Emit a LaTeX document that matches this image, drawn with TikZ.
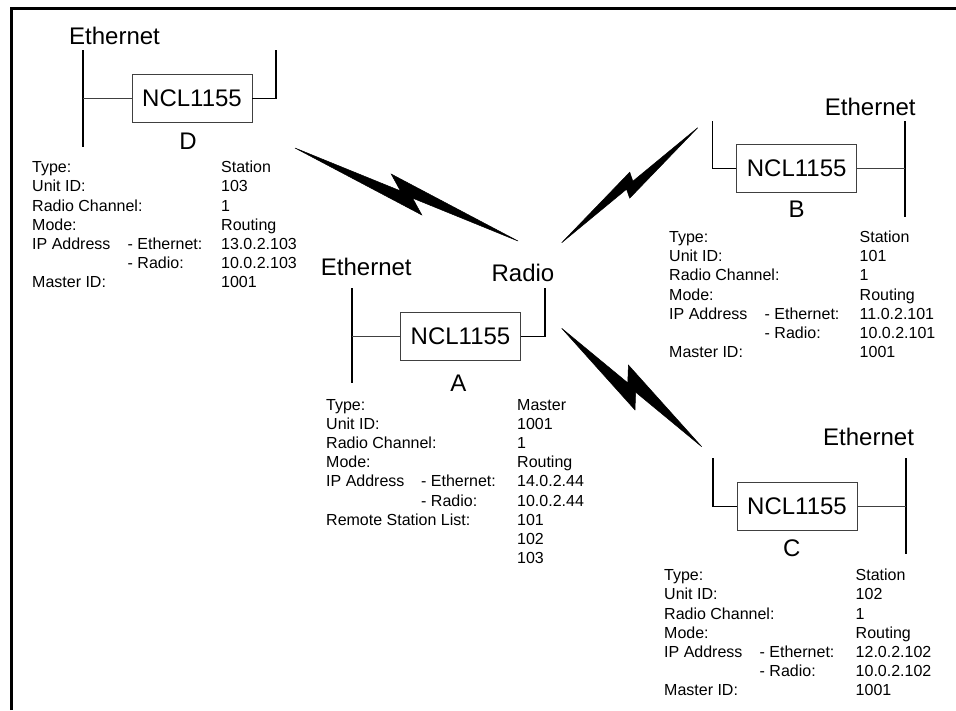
\documentclass[tikz,border=0pt]{standalone}
\usepackage{fontspec}
\setmainfont{Liberation Sans}
\usetikzlibrary{calc}

\tikzset{
  big/.style={font=\fontsize{24}{28}\selectfont, inner sep=0pt, anchor=base west},
  small/.style={font=\fontsize{16}{19}\selectfont, inner sep=0pt, anchor=base west},
  unitbox/.style={draw=black!75, line width=0.8pt, minimum width=120pt, minimum height=48pt,
    inner sep=0pt, font=\fontsize{24}{28}\selectfont},
  bus/.style={line width=2pt},
  radiolead/.style={line width=1.6pt},
  ethlead/.style={line width=0.8pt, draw=black!75},
}

% radio link: start, end, forward tip (along, across), joint (along, across)
\newcommand{\bolt}[6]{%
  \pgfmathsetmacro{\bqa}{-(#3)}
  \pgfmathsetmacro{\bqb}{-(#4)}
  \pgfmathsetmacro{\baa}{-(#5)}
  \pgfmathsetmacro{\bab}{-(#6)}
  \coordinate (bm) at ($(#1)!0.5!(#2)$);
  \filldraw[line width=0.5pt] (#1)
    -- ($(bm)!#5pt!(#2)!#6pt!90:(#2)$)
    -- ($(bm)!\bqa pt!(#2)!\bqb pt!90:(#2)$)
    -- (#2)
    -- ($(bm)!\baa pt!(#2)!\bab pt!90:(#2)$)
    -- ($(bm)!#3pt!(#2)!#4pt!90:(#2)$)
    -- cycle;
}

\begin{document}
\begin{tikzpicture}[x=1pt,y=-1pt]
  \useasboundingbox (0,0) rectangle (956,710);

  % frame
  \draw[line width=3pt] (11,710) -- (11,8.5) -- (956,8.5);

  % Unit D
  \node[unitbox] (boxD) at (192,98.5) {NCL1155};
  \coordinate (busDtop) at (83,50);
  \coordinate (busDbot) at (83,147);
  \draw[bus] (busDtop) -- (busDbot);
  \draw[ethlead] (boxD.west) -- (boxD.west -| busDtop);
  \coordinate (radD) at (276,50);
  \draw[radiolead] (boxD.east) -| (radD);
  \node[big] (ethD) at (69,44.3) {Ethernet};
  \node[big, anchor=base] (labD) at (188,149) {D};
  \foreach \a/\b/\c [count=\i from 0] in {Type://Station, Unit ID://103,
      Radio Channel://1, Mode://Routing, IP Address/- Ethernet:/13.0.2.103,
      /- Radio:/10.0.2.103, Master ID://1001}{
    \node[small] (D-a\i) at (32,172.7+19.2*\i) {\a};
    \node[small] (D-b\i) at (127.5,172.7+19.2*\i) {\b};
    \node[small] (D-c\i) at (221,172.7+19.2*\i) {\c};
  }

  % Unit A
  \node[unitbox] (boxA) at (460.5,336.5) {NCL1155};
  \coordinate (busAtop) at (351.7,288.3);
  \coordinate (busAbot) at (351.7,383.3);
  \draw[bus] (busAtop) -- (busAbot);
  \draw[ethlead] (boxA.west) -- (boxA.west -| busAtop);
  \coordinate (radA) at (545,288.3);
  \draw[radiolead] (boxA.east) -| (radA);
  \node[big] (ethA) at (320.7,275) {Ethernet};
  \node[big] (radioA) at (491.4,281.7) {Radio};
  \node[big, anchor=base] (labA) at (458.3,391.7) {A};
  \foreach \a/\b/\c [count=\i from 0] in {Type://Master, Unit ID://1001,
      Radio Channel://1, Mode://Routing, IP Address/- Ethernet:/14.0.2.44,
      /- Radio:/10.0.2.44, Remote Station List://101, //102, //103}{
    \node[small] (A-a\i) at (326,410+19.2*\i) {\a};
    \node[small] (A-b\i) at (421,410+19.2*\i) {\b};
    \node[small] (A-c\i) at (517,410+19.2*\i) {\c};
  }

  % Unit B
  \node[unitbox] (boxB) at (796.7,168.5) {NCL1155};
  \coordinate (busBtop) at (905,121);
  \coordinate (busBbot) at (905,216.7);
  \draw[bus] (busBtop) -- (busBbot);
  \draw[ethlead] (boxB.east) -- (boxB.east -| busBtop);
  \coordinate (radB) at (712.3,121);
  \draw[radiolead] (boxB.west) -| (radB);
  \node[big] (ethB) at (824.7,115) {Ethernet};
  \node[big, anchor=base] (labB) at (796.7,217.3) {B};
  \foreach \a/\b/\c [count=\i from 0] in {Type://Station, Unit ID://101,
      Radio Channel://1, Mode://Routing, IP Address/- Ethernet:/11.0.2.101,
      /- Radio:/10.0.2.101, Master ID://1001}{
    \node[small] (B-a\i) at (669,242.4+19.2*\i) {\a};
    \node[small] (B-b\i) at (764.5,242.4+19.2*\i) {\b};
    \node[small] (B-c\i) at (859.5,242.4+19.2*\i) {\c};
  }

  % Unit C
  \node[unitbox] (boxC) at (797,506.3) {NCL1155};
  \coordinate (busCtop) at (905.7,458.3);
  \coordinate (busCbot) at (905.7,554);
  \draw[bus] (busCtop) -- (busCbot);
  \draw[ethlead] (boxC.east) -- (boxC.east -| busCtop);
  \coordinate (radC) at (712.7,458.3);
  \draw[radiolead] (boxC.west) -| (radC);
  \node[big] (ethC) at (823,445) {Ethernet};
  \node[big, anchor=base] (labC) at (791.7,556) {C};
  \foreach \a/\b/\c [count=\i from 0] in {Type://Station, Unit ID://102,
      Radio Channel://1, Mode://Routing, IP Address/- Ethernet:/12.0.2.102,
      /- Radio:/10.0.2.102, Master ID://1001}{
    \node[small] (C-a\i) at (664,580.7+19.2*\i) {\a};
    \node[small] (C-b\i) at (759.5,580.7+19.2*\i) {\b};
    \node[small] (C-c\i) at (855.5,580.7+19.2*\i) {\c};
  }

  % radio links
  \coordinate (linkD) at (295,148);
  \coordinate (linkAD) at (518,241);
  \coordinate (linkAB) at (561.7,242.7);
  \coordinate (linkB) at (697.7,127.7);
  \coordinate (linkAC) at (561.7,328.3);
  \coordinate (linkC) at (701.7,446.7);
  \bolt{linkD}{linkAD}{22}{-13}{-7}{1}
  \bolt{linkAB}{linkB}{8.4}{9.9}{-5}{-1}
  \bolt{linkAC}{linkC}{17}{-15}{-6}{1}
\end{tikzpicture}
\end{document}
